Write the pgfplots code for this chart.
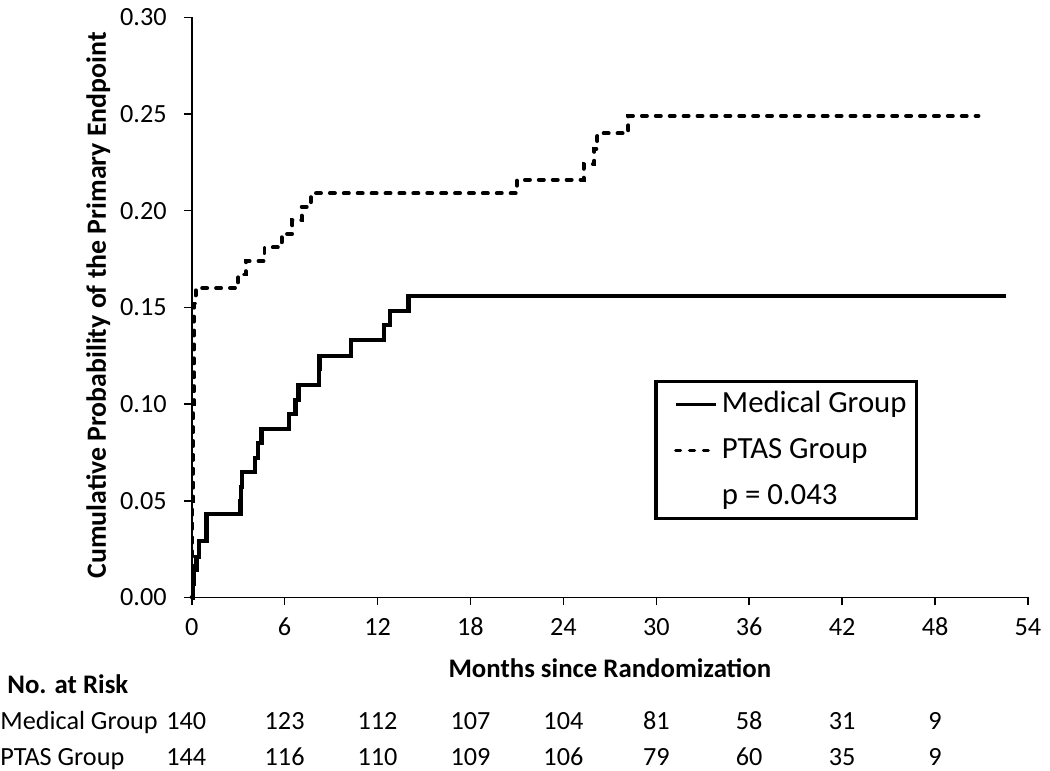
\documentclass[border=0pt]{standalone}
\usepackage{pgfplots}
\pgfplotsset{compat=1.18}
\usepackage{fontspec}
\setmainfont{Carlito}

\pgfplotstableread{
x y
0 0
0.10 0.007
0.15 0.014
0.30 0.021
0.45 0.029
0.95 0.043
3.15 0.050
3.20 0.057
3.25 0.065
4.10 0.072
4.30 0.080
4.50 0.087
6.30 0.095
6.70 0.102
6.90 0.110
8.20 0.118
8.25 0.125
10.30 0.133
12.40 0.141
12.80 0.148
14.00 0.156
52.60 0.156
}\medical

\pgfplotstableread{
x y
0 0
0.05 0.050
0.10 0.100
0.15 0.152
0.25 0.160
3.00 0.167
3.50 0.174
4.70 0.181
5.80 0.188
6.50 0.195
7.10 0.202
7.70 0.209
21.00 0.216
25.30 0.224
26.00 0.232
26.20 0.240
28.20 0.249
50.80 0.249
}\ptas

\begin{document}
\fontsize{13.2}{16}\selectfont
\begin{tikzpicture}
\begin{axis}[
  scale only axis, width=421pt, height=292pt,
  xmin=0, xmax=54, ymin=0, ymax=0.30,
  axis lines*=left,
  axis line style={line width=0.8pt, black},
  xtick={0,6,12,18,24,30,36,42,48,54},
  ytick={0,0.05,0.10,0.15,0.20,0.25,0.30},
  tick align=outside, major tick length=4pt,
  tick style={line width=0.8pt, black},
  /pgf/number format/assume math mode=true,
  yticklabel style={/pgf/number format/fixed, /pgf/number format/fixed zerofill, /pgf/number format/precision=2, xshift=-4pt},
  xticklabel style={yshift=-2pt, text height=8.4pt, text depth=0pt},
  ticklabel style={font=\fontsize{13.2}{16}\selectfont},
  clip=false,
  legend style={at={(axis cs:29.85,0.1125)}, anchor=north west, draw=black,
    line width=1.8pt, inner xsep=3pt, inner ysep=3pt, row sep=7pt,
    font=\fontsize{15.5}{18}\selectfont},
  legend cell align=left,
  legend image code/.code={\draw[#1, line width=1.6pt] (7pt,0pt) -- (27.5pt,0pt);},
]
\path (axis cs:-12.38,-0.0894) rectangle (axis cs:54.97,0.3062);

\addplot[const plot, black, line width=2.2pt, line join=miter] table[x=x,y=y] {\medical};
\addlegendentry{Medical Group}
\addplot[const plot, black, line width=2pt, line cap=round, dash pattern=on 2.5pt off 4.5pt] table[x=x,y=y] {\ptas};
\addlegendentry{PTAS Group}
\addlegendimage{empty legend}
\addlegendentry{p = 0.043}

\node[rotate=90, font=\bfseries\fontsize{14}{16}\selectfont] at (axis cs:-6.03,0.151) {Cumulative Probability of the Primary Endpoint};
\node[font=\bfseries\fontsize{13.5}{16}\selectfont, anchor=base] at (axis cs:27,-0.0416) {Months since Randomization};
\node[font=\bfseries\fontsize{13.5}{16}\selectfont, anchor=base west, inner sep=0pt] at (axis cs:-11.93,-0.0498) {No. at Risk};
\node[anchor=base west, inner sep=0pt] at (axis cs:-12.38,-0.0683) {Medical Group};
\node[anchor=base west, inner sep=0pt] at (axis cs:-12.38,-0.0870) {PTAS Group};
\node[anchor=base, inner sep=0pt] at (axis cs:-0.35,-0.0683) {140};
\node[anchor=base, inner sep=0pt] at (axis cs:6,-0.0683) {123};
\node[anchor=base, inner sep=0pt] at (axis cs:12,-0.0683) {112};
\node[anchor=base, inner sep=0pt] at (axis cs:18,-0.0683) {107};
\node[anchor=base, inner sep=0pt] at (axis cs:24,-0.0683) {104};
\node[anchor=base, inner sep=0pt] at (axis cs:30,-0.0683) {81};
\node[anchor=base, inner sep=0pt] at (axis cs:36,-0.0683) {58};
\node[anchor=base, inner sep=0pt] at (axis cs:42,-0.0683) {31};
\node[anchor=base, inner sep=0pt] at (axis cs:48,-0.0683) {9};
\node[anchor=base, inner sep=0pt] at (axis cs:-0.35,-0.0870) {144};
\node[anchor=base, inner sep=0pt] at (axis cs:6,-0.0870) {116};
\node[anchor=base, inner sep=0pt] at (axis cs:12,-0.0870) {110};
\node[anchor=base, inner sep=0pt] at (axis cs:18,-0.0870) {109};
\node[anchor=base, inner sep=0pt] at (axis cs:24,-0.0870) {106};
\node[anchor=base, inner sep=0pt] at (axis cs:30,-0.0870) {79};
\node[anchor=base, inner sep=0pt] at (axis cs:36,-0.0870) {60};
\node[anchor=base, inner sep=0pt] at (axis cs:42,-0.0870) {35};
\node[anchor=base, inner sep=0pt] at (axis cs:48,-0.0870) {9};
\end{axis}
\end{tikzpicture}
\end{document}
